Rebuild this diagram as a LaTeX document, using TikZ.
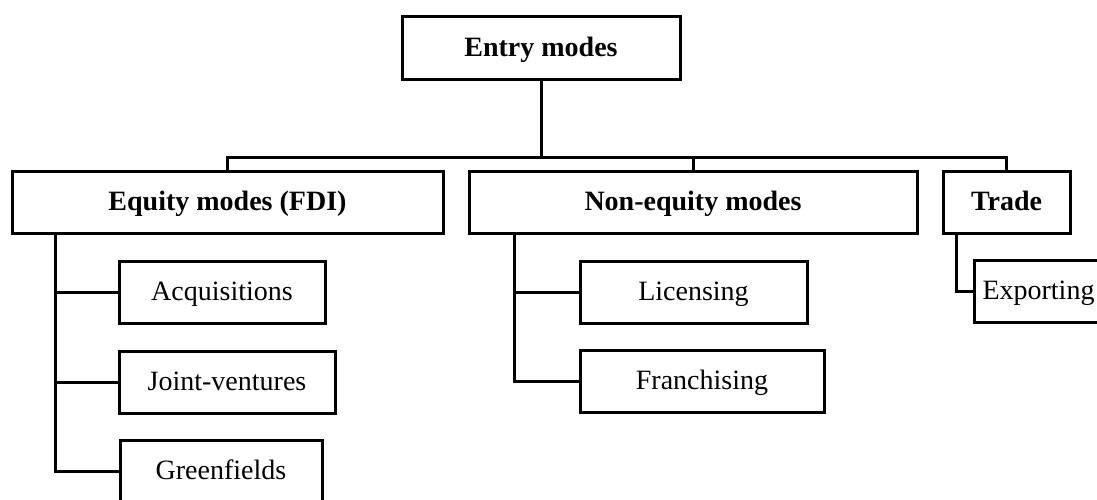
\documentclass[tikz,border=0pt]{standalone}
\usepackage{fontspec}
\setmainfont{Liberation Serif}
\usetikzlibrary{positioning}
\tikzstyle{Link} = [line width=3pt]

\begin{document}
\begin{tikzpicture}[
x=1pt, y=-1pt,
box/.style={
    rectangle,
    draw,
    line width=3pt,
    outer sep=0pt,
    inner sep=0pt,
    minimum height=62pt,
    text height=24pt,
    text depth=7pt,
    font=\fontsize{28}{32}\selectfont
    },
head/.style={
    box,
    font=\fontsize{28}{32}\selectfont\bfseries
    }
]
\useasboundingbox (0,0) rectangle (1097,500);
\clip (0,0) rectangle (1097,500);

\node [head, minimum width=278pt, minimum height=63pt] (entry) at (541,48.5) {Entry modes};

\node [head, minimum width=431pt, anchor=west] (equity) at (12,202) {Equity modes (FDI)};
\node [head, minimum width=448pt, right=26pt of equity] (nonequity) {Non-equity modes};
\node [head, minimum width=127pt, right=26pt of nonequity] (trade) {Trade};

\node [box, minimum width=206pt, below right=28pt and 107pt of equity.south west] (acq) {Acquisitions};
\node [box, minimum width=216pt, below right=28pt and 0pt of acq.south west] (joint) {Joint-ventures};
\node [box, minimum width=202pt, below right=27pt and 1pt of joint.south west] (green) {Greenfields};

\node [box, minimum width=227pt, below right=28pt and 111pt of nonequity.south west] (lic) {Licensing};
\node [box, minimum width=244pt, below right=27pt and 0pt of lic.south west] (fran) {Franchising};

\node [box, minimum width=129pt, below right=27pt and 31pt of trade.south west] (exp) {Exporting};

\coordinate [below=77pt of entry.south] (split);
\coordinate [right=43pt of equity.south west] (eqtrunk);
\coordinate [right=45pt of nonequity.south west] (netrunk);
\coordinate [right=13pt of trade.south west] (trtrunk);

\draw[Link] (entry.south) -- (split);
\draw[Link] (equity.north) |- (split) -| (trade.north);
\draw[Link] (split -| nonequity.north) -- (nonequity.north);

\draw[Link] (eqtrunk) |- (green.west);
\draw[Link] (eqtrunk |- acq.west) -- (acq.west);
\draw[Link] (eqtrunk |- joint.west) -- (joint.west);

\draw[Link] (netrunk) |- (fran.west);
\draw[Link] (netrunk |- lic.west) -- (lic.west);

\draw[Link] (trtrunk) |- (exp.west);

\end{tikzpicture}
\end{document}
